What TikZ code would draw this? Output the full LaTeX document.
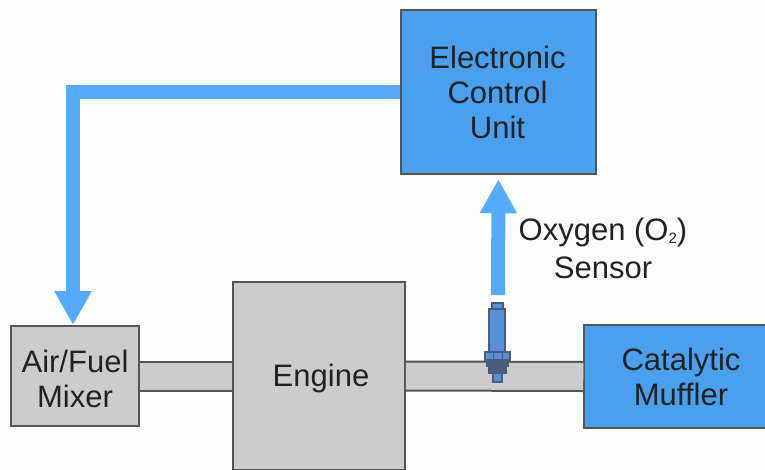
\documentclass[tikz,border=0pt]{standalone}
\usepackage{fontspec}
\setmainfont{Liberation Sans}
\usetikzlibrary{arrows.meta}
\definecolor{boxblue}{HTML}{4A9FEF}
\definecolor{arrowblue}{HTML}{55AAFB}
\definecolor{boxgray}{HTML}{CCCCCC}
\definecolor{edgegray}{HTML}{555555}
\definecolor{paper}{HTML}{FDFDFD}
\definecolor{inkgray}{HTML}{222222}
\definecolor{sensorblue}{HTML}{5590D8}
\definecolor{sensordark}{HTML}{4A5E7C}
\tikzset{
  graybox/.style={draw=edgegray,line width=1.8pt,fill=boxgray,align=center,inner sep=0pt},
  bluebox/.style={draw=edgegray,line width=1.5pt,fill=boxblue,align=center,inner sep=0pt},
  pipe/.style={draw=edgegray,line width=2pt,double=boxgray,double distance=27pt},
  signal/.style={draw=arrowblue,line width=14pt,-{Triangle[length=34pt,width=35pt]}},
  sensorpart/.style={draw=sensordark,line width=1.2pt,fill=#1}
}
\begin{document}
\begin{tikzpicture}[x=1pt,y=-1pt,font=\fontsize{31}{35}\selectfont,text=inkgray]

\useasboundingbox (0,0) rectangle (765,469);
\clip (0,0) rectangle (765,469);
\fill[paper] (0,0) rectangle (765,469);

% boxes
\node[bluebox,minimum width=195pt,minimum height=164pt] (ecu) at (498.5,92) {};
\node[graybox,minimum width=128pt,minimum height=100pt] (mixer) at (75,376) {};
\node[graybox,minimum width=172pt,minimum height=188pt] (engine) at (319,376) {};
\node[bluebox,minimum width=194pt,minimum height=103pt] (muffler) at (681,376.5) {};

% box texts
\node[align=center] (ecutext) at (497.5,92) {Electronic\\Control\\Unit};
\node[align=center] (mixertext) at (75,378.5) {Air/Fuel\\Mixer};
\node (enginetext) at (321,378) {Engine};
\node[align=center] (mufflertext) at (681,376.5) {Catalytic\\Muffler};

% pipes
\draw[pipe] (mixer.east) -- (engine.west);
\draw[pipe] (engine.east) -- (muffler.west);

% oxygen sensor
\coordinate (probe) at (498,295);
\coordinate (feed) at (73,325);
\draw[sensorpart=sensorblue] (492,303) rectangle (503,309);
\draw[sensorpart=sensorblue] (489,309) rectangle (505,352);
\draw[sensorpart=sensorblue] (485,352) rectangle (510,360);
\draw[sensordark,line width=1pt] (493,352) -- (493,360) (502,352) -- (502,360);
\draw[sensorpart=sensordark] (487,360) rectangle (508,366);
\draw[sensorpart=sensordark] (489,366) rectangle (506,373);
\draw[sensorpart=sensorblue] (493,373) rectangle (502,382);

% signal lines
\draw[signal] (ecu.west) -| (feed);
\draw[signal] (probe) -- ([yshift=-4.5pt]ecu.south);

% label
\node[align=center,font=\fontsize{31}{38}\selectfont] (o2) at (603,248) {Oxygen (O\raisebox{-3pt}{\fontsize{15}{15}\selectfont 2})\\Sensor};

\end{tikzpicture}
\end{document}
